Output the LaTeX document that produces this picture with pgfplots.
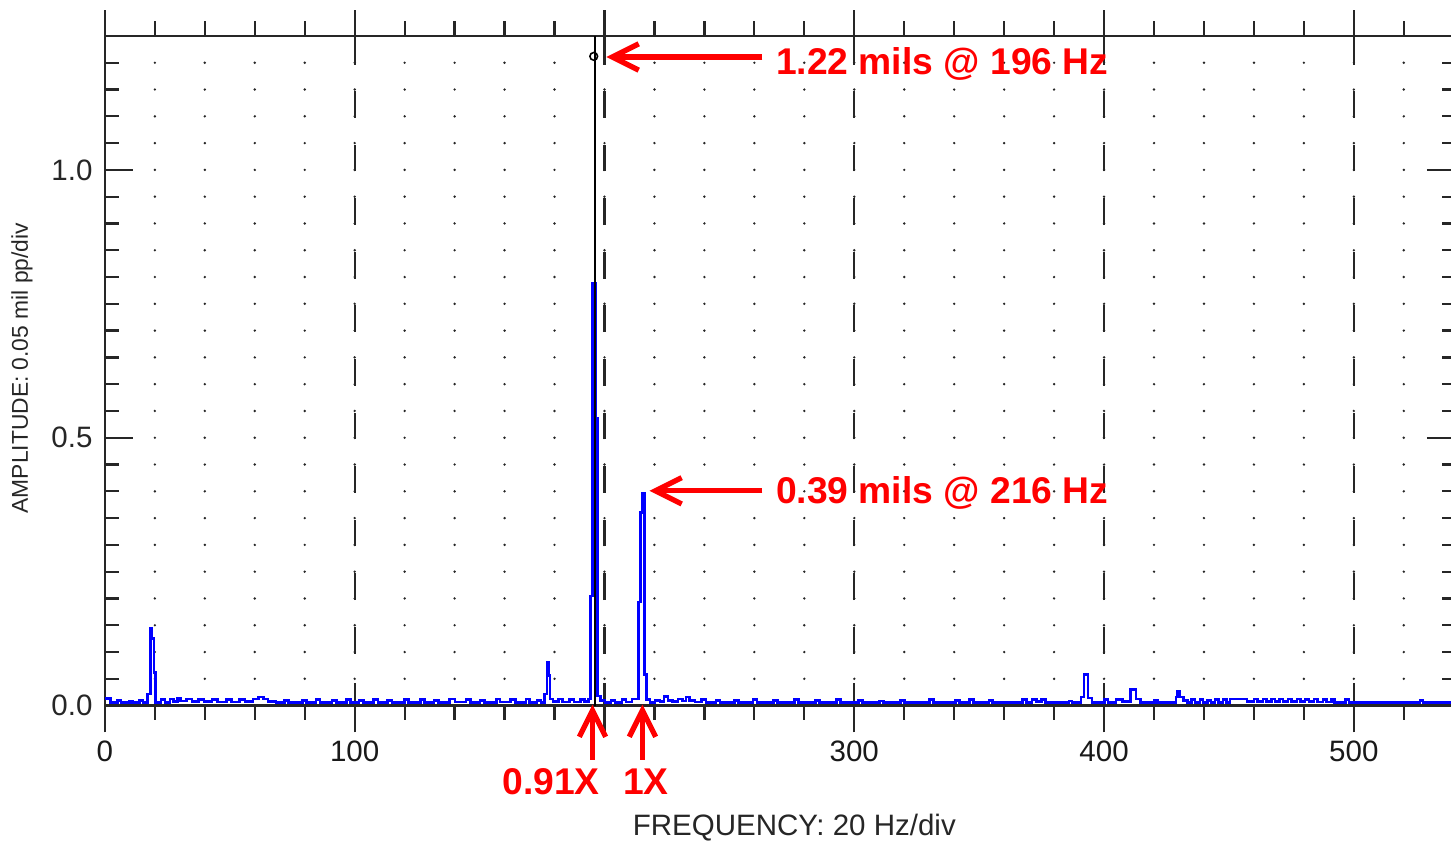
\documentclass[border=0pt]{standalone}
\usepackage{fontspec}
\setmainfont{Liberation Sans}
\usepackage{pgfplots}
\usepackage{pgfplotstable}
\pgfplotsset{compat=1.18}
\usetikzlibrary{arrows.meta}
\definecolor{specblue}{RGB}{0,0,255}
\definecolor{annred}{RGB}{255,0,0}

\pgfplotstableread{
f a
0 0.013
2.2 0.006
5.0 0.010
6.4 0.006
9.8 0.009
11.0 0.006
13.8 0.010
15.2 0.006
17.0 0.022
18.3 0.144
18.9 0.125
19.6 0.062
20.3 0.006
22.4 0.011
24.0 0.006
26.0 0.012
27.4 0.008
29.0 0.014
30.2 0.009
32.6 0.012
34.8 0.008
37.4 0.011
39.6 0.008
42.8 0.011
45.0 0.007
48.6 0.011
50.6 0.007
53.8 0.011
56.0 0.008
59.2 0.012
61.4 0.016
63.4 0.012
65.2 0.008
68.4 0.006
72.0 0.010
73.6 0.006
79.0 0.010
80.6 0.006
84.6 0.011
86.2 0.006
91.0 0.010
92.8 0.006
96.8 0.011
98.4 0.006
101.8 0.010
103.6 0.006
107.6 0.011
109.4 0.006
113.2 0.010
115.0 0.006
120.0 0.011
121.6 0.006
126.4 0.011
128.0 0.006
131.8 0.010
133.6 0.006
138.0 0.012
140.2 0.007
144.6 0.011
146.4 0.006
150.2 0.010
152.0 0.006
156.8 0.012
158.2 0.007
162.4 0.011
164.4 0.006
168.6 0.012
170.0 0.006
173.0 0.010
174.6 0.006
176.0 0.022
176.9 0.080
177.5 0.056
178.2 0.012
179.4 0.008
181.6 0.012
183.2 0.007
186.0 0.011
187.8 0.007
190.4 0.011
192.0 0.008
193.6 0.012
194.3 0.205
195.1 0.789
196.5 0.537
197.1 0.018
198.4 0.010
200.2 0.006
202.6 0.010
204.2 0.006
207.0 0.011
208.6 0.007
211.0 0.012
213.6 0.193
214.4 0.360
215.2 0.397
216.1 0.058
216.9 0.011
218.2 0.006
220.2 0.010
222.2 0.008
223.8 0.017
225.4 0.010
227.2 0.008
229.4 0.012
231.2 0.009
232.6 0.016
234.0 0.010
236.2 0.007
238.8 0.011
240.6 0.006
244.6 0.010
246.2 0.006
252.0 0.010
253.6 0.006
259.4 0.011
261.0 0.006
267.6 0.010
269.2 0.006
276.0 0.011
277.6 0.006
284.4 0.010
286.0 0.006
292.8 0.011
294.4 0.006
301.6 0.010
303.2 0.006
310.2 0.009
311.6 0.006
318.6 0.010
320.2 0.006
330.2 0.011
331.8 0.006
340.6 0.010
342.2 0.006
346.2 0.011
347.8 0.006
354.0 0.010
355.4 0.006
367.4 0.011
369.0 0.006
371.2 0.011
373.0 0.008
375.0 0.011
376.6 0.006
386.0 0.009
387.2 0.006
390.8 0.016
392.0 0.058
393.6 0.014
395.2 0.006
400.2 0.011
401.6 0.006
404.8 0.011
407.4 0.008
410.6 0.030
412.8 0.012
414.6 0.006
420.2 0.010
421.4 0.006
428.8 0.016
429.4 0.027
430.4 0.016
431.8 0.010
433.4 0.006
435.0 0.011
436.4 0.006
438.4 0.011
439.6 0.006
441.4 0.010
442.8 0.006
444.4 0.011
445.8 0.006
447.6 0.011
449.0 0.006
450.4 0.012
457.2 0.008
460.0 0.012
461.4 0.008
463.6 0.012
465.0 0.008
467.0 0.012
468.4 0.008
470.2 0.012
471.6 0.008
473.6 0.012
475.0 0.008
477.2 0.012
478.6 0.008
480.4 0.011
482.0 0.008
484.0 0.012
485.4 0.007
487.6 0.011
489.0 0.007
491.0 0.012
492.2 0.006
496.6 0.011
498.0 0.006
526.4 0.010
527.6 0.006
538.8 0.006
}\spectrum

\begin{document}
\begin{tikzpicture}
\begin{axis}[
  x=0.025cm, y=5.36cm,
  xmin=-42, xmax=538.8, ymin=-0.2612, ymax=1.3172,
  hide axis, clip=false,
]
\path (rel axis cs:0,0) rectangle (rel axis cs:1,1);
\pgfplotsextra{
  % dot grid
  \foreach \xx in {20,40,...,520} {
    \foreach \k in {1,...,24} {
      \pgfmathsetmacro\yy{0.05*\k}
      \fill[black!85] (axis cs:\xx,\yy) circle[radius=0.38pt];
    }
  }
  % dashed major verticals
  \foreach \xx in {100,200,300,400,500} {
    \foreach \k in {0,...,10} {
      \pgfmathsetmacro\ya{0.097+0.1*\k}
      \pgfmathsetmacro\yb{0.147+0.1*\k}
      \draw[black!85, line width=0.65pt] (axis cs:\xx,\ya) -- (axis cs:\xx,\yb);
    }
    \draw[black!85, line width=0.65pt] (axis cs:\xx,-0.05) -- (axis cs:\xx,0.043);
    \draw[black!85, line width=0.65pt] (axis cs:\xx,1.196) -- (axis cs:\xx,1.2985);
  }
  % minor ticks top and bottom
  \foreach \xx in {20,40,60,80,120,140,160,180,220,240,260,280,320,340,360,380,420,440,460,480,520} {
    \draw[black!85, line width=0.65pt] (axis cs:\xx,1.25) -- (axis cs:\xx,1.278);
    \draw[black!85, line width=0.65pt] (axis cs:\xx,0) -- (axis cs:\xx,-0.0275);
  }
  % left and right y ticks
  \foreach \k in {1,...,24} {
    \pgfmathsetmacro\yy{0.05*\k}
    \draw[black!85, line width=0.65pt] (axis cs:0,\yy) -- (axis cs:5.6,\yy);
    \draw[black!85, line width=0.65pt] (axis cs:535.4,\yy) -- (axis cs:538.8,\yy);
  }
  \foreach \yy in {0.5,1.0} {
    \draw[black!85, line width=0.65pt] (axis cs:0,\yy) -- (axis cs:11.2,\yy);
    \draw[black!85, line width=0.65pt] (axis cs:529.2,\yy) -- (axis cs:538.8,\yy);
  }
  % frame lines
  \draw[black!85, line width=0.65pt] (axis cs:0,-0.05) -- (axis cs:0,1.2985);
  \draw[black!85, line width=0.65pt] (axis cs:0,1.25) -- (axis cs:538.8,1.25);
  \draw[black!85, line width=0.65pt] (axis cs:0,0) -- (axis cs:538.8,0);
  % tick labels
  \foreach \yy/\lab in {0/0.0, 0.5/0.5, 1.0/1.0} {
    \node[anchor=east, inner sep=0pt, font=\fontsize{8.4}{10}\selectfont, text=black!85] at (axis cs:-4.7,\yy) {\lab};
  }
  \foreach \xx in {0,100,300,400,500} {
    \node[inner sep=0pt, font=\fontsize{8.4}{10}\selectfont, text=black!90] at (axis cs:\xx,-0.0858) {\xx};
  }
}

% spectrum
\addplot[const plot mark left, specblue, line width=0.72pt] table[x=f,y=a] {\spectrum};

% cursor
\addplot[black, line width=0.6pt] coordinates {(196.3,0) (196.3,1.25)};
\addplot[only marks, mark=o, mark size=1.1pt, black, mark options={line width=0.45pt}] coordinates {(195.7,1.212)};

\node[inner sep=0pt, font=\fontsize{8.4}{10}\selectfont, text=black!85] at (axis cs:276,-0.2276) {FREQUENCY: 20 Hz/div};
\node[inner sep=0pt, rotate=90, font=\fontsize{6.5}{8}\selectfont, text=black!85] at (axis cs:-33.2,0.63) {AMPLITUDE: 0.05 mil pp/div};

% annotations
\draw[annred, line width=1.5pt, -{Straight Barb[length=7.5pt,width=7.5pt]}] (axis cs:263.2,1.2108) -- (axis cs:200.8,1.2108);
\draw[annred, line width=1.5pt, -{Straight Barb[length=7.5pt,width=7.5pt]}] (axis cs:263.2,0.401) -- (axis cs:218,0.401);
\draw[annred, line width=1.5pt, -{Straight Barb[length=7.5pt,width=7.5pt]}] (axis cs:195.2,-0.1007) -- (axis cs:195.2,0.0019);
\draw[annred, line width=1.5pt, -{Straight Barb[length=7.5pt,width=7.5pt]}] (axis cs:215.2,-0.1007) -- (axis cs:215.2,0.0019);
\node[anchor=base west, inner sep=0pt, text=annred, font=\fontsize{10.6}{12}\selectfont\bfseries] at (axis cs:268.4,1.1772) {1.22 mils @ 196 Hz};
\node[anchor=base west, inner sep=0pt, text=annred, font=\fontsize{10.6}{12}\selectfont\bfseries] at (axis cs:268.4,0.3778) {0.39 mils @ 216 Hz};
\node[anchor=base, inner sep=0pt, text=annred, font=\fontsize{10.6}{12}\selectfont\bfseries] at (axis cs:178.6,-0.166) {0.91X};
\node[anchor=base, inner sep=0pt, text=annred, font=\fontsize{10.6}{12}\selectfont\bfseries] at (axis cs:216.6,-0.166) {1X};
\end{axis}
\end{tikzpicture}
\end{document}
